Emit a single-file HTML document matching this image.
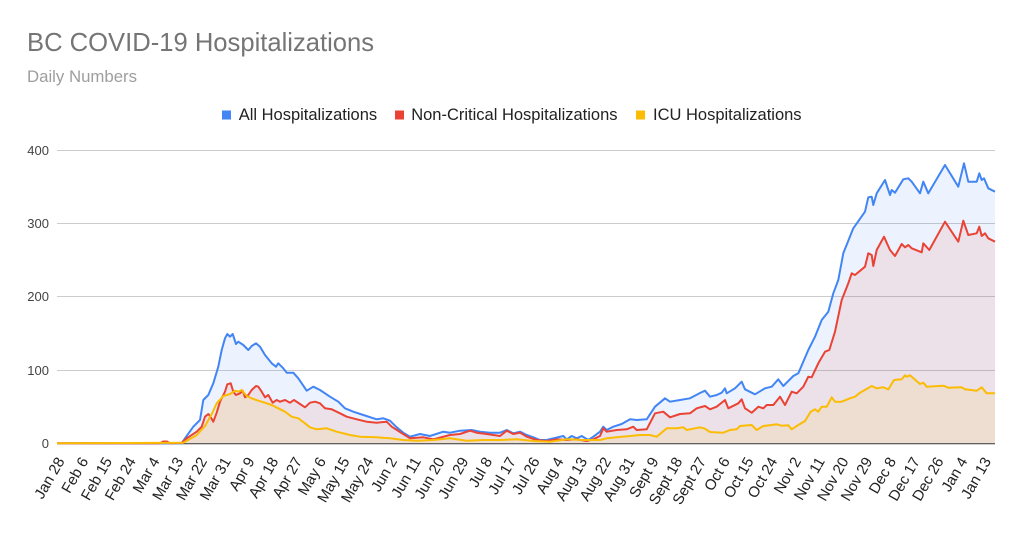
<!DOCTYPE html>
<html><head><meta charset="utf-8"><style>
html,body{margin:0;padding:0;background:#fff;}
svg{display:block;font-family:"Liberation Sans",Arial,sans-serif;}
</style></head><body>
<svg width="1022" height="535" viewBox="0 0 1022 535" xmlns="http://www.w3.org/2000/svg">
<rect width="1022" height="535" fill="#fff"/>
<text x="27" y="51" font-size="25.6" fill="#757575">BC COVID-19 Hospitalizations</text>
<text x="27" y="82" font-size="16.8" fill="#9e9e9e">Daily Numbers</text>
<!-- legend -->
<rect x="222" y="110.5" width="9" height="9" fill="#4285f4"/>
<text x="238.7" y="120" font-size="16.5" fill="#222">All Hospitalizations</text>
<rect x="395" y="110.5" width="9" height="9" fill="#ea4335"/>
<text x="411.2" y="120" font-size="16.5" fill="#222">Non-Critical Hospitalizations</text>
<rect x="636" y="110.5" width="9" height="9" fill="#fbbc04"/>
<text x="653" y="120" font-size="16.5" fill="#222">ICU Hospitalizations</text>
<!-- grid -->
<g stroke="#cccccc" stroke-width="1">
<line x1="57" y1="150.5" x2="995" y2="150.5"/>
<line x1="57" y1="223.5" x2="995" y2="223.5"/>
<line x1="57" y1="296.5" x2="995" y2="296.5"/>
<line x1="57" y1="370.5" x2="995" y2="370.5"/>
</g>
<g font-size="13" fill="#444" text-anchor="end">
<text x="49" y="155">400</text>
<text x="49" y="228">300</text>
<text x="49" y="301">200</text>
<text x="49" y="375">100</text>
<text x="49" y="448">0</text>
</g>
<!-- areas -->
<g fill-opacity="0.1" stroke="none">
<polygon fill="#4285f4" points="57,443.3 181.7,443.3 185,438.3 193.3,426.7 200,420 203.3,400 208.3,395 213.3,383.3 218.3,366.7 221.7,350 225,338.3 227.3,334 230,336.7 232.7,334 236,344 238.3,341.7 243.3,345 248.3,350 251.7,346 256,343.3 260,346.7 265,355 271.7,363.3 276,366.7 278.3,363.3 283.3,368.3 286.7,372.7 293.3,372.7 298.3,378.3 306.7,390.7 313.3,386.7 320,390 330,396.7 338.3,401.7 345,408.3 353.3,411.7 363.3,415 376.7,419.3 383.3,418.3 390,420.7 396.7,427.3 403.3,432.7 410,436.7 420,434 430,436 443.3,431.7 450,432.7 460,430.7 471.7,430 480,431.7 490,432.7 500,432.7 506.7,430 513.3,433.3 520,431.7 526.7,435 533.3,437.3 540,440 546.7,440 553.3,438.3 563.3,436 566.7,439.3 571.7,436 576.7,438.3 581.7,436 588.3,440 593.3,436.7 600,431.7 603.3,426.7 606.7,430 613.3,426.7 621.7,424 630,419.3 636.7,420 646.7,419.3 655,406.7 665,398.3 670,401.7 680,400 690,398.3 700,393 705,390.7 710,396.7 716.7,395 721.7,392.7 725,388.3 726.7,393.3 735,388.3 741.7,381.7 745,389.3 755,394.3 765,388.3 771.7,386.7 778.3,379.3 783.3,386 793.3,376 798.3,373.3 808.3,350 815,336.7 821.7,320 828.3,311.7 833.3,293.3 838.3,280 843.3,253.3 853.3,228.3 865,211.7 868.3,197.3 871.7,196.7 873.3,205 876.7,193.3 885,180 890,195 891.7,190 895,192.7 903.3,179.3 908.3,178.3 911.7,181.7 920,193.3 923.3,181.7 928.3,193.3 945,165 958.3,186.7 964,163.3 968.3,181.7 976.7,181.7 979.3,173.3 981.7,180 984,178.3 988.3,188.3 995,191.7 995,443.3"/>
<polygon fill="#ea4335" points="57,443.3 160,443.3 163,441.5 167,441.5 170,443.3 181.7,442.7 186.7,438.3 196.7,431.7 201.7,426.7 205,416.7 208.3,414 210,416 213.3,421.7 216.7,412.7 220,401.7 225,391.7 227.3,384.3 230.7,383.3 233.3,391.7 236,395 240,393.3 242.7,390.7 245,397.3 248.3,395 251.7,390 256,386 258.3,386.7 261.7,391.7 265,397.3 268.3,395 272.7,402.7 276.7,400 280,401.7 285,400 290,402.7 294,400 300,404 305,407.3 310,402.7 315,401.7 320,403.3 325,408.3 331.7,409.3 340,413.3 346.7,416.7 356.7,419.3 366.7,421.7 376.7,422.7 386.7,421.7 391.7,426.7 400,432 410,438.3 423.3,437.3 433.3,439.3 450,435 460,434 470,430.7 476.7,432.7 486.7,434 500,436 506.7,430.7 513.3,434 520,432.7 526.7,436.7 536.7,440 546.7,441 556.7,439.3 566.7,440 576.7,439.3 586.7,441 593.3,439.3 600,436 603.3,428.3 606.7,431.7 616.7,430 626.7,429.3 633.3,426.7 636.7,430 646.7,429.3 655,413.3 663.3,411.7 670,417.3 680,414 690,413.3 696.7,408.3 705,406 710,409.3 716.7,406.7 725,400 728.3,408.3 738.3,403.3 741.7,399.3 745,408.3 751.7,412.7 758.3,406.7 763.3,408.3 766.7,405 773.3,405 780,396.7 785,405 791.7,391.7 796.7,393.3 803.3,386.7 808.3,376.7 811.7,377.3 818.3,363.3 825,351.7 829.3,350 835,331.7 841.7,300 848.3,283.3 851.7,273.3 855,275 865,266.7 868.3,253.3 871.7,255 873.3,266 876.7,250 884,236.7 890,250 895,256 901.7,244 905,247.3 908.3,245 911.7,248.3 921.7,252.3 923.3,243.3 929.3,250 945,221.7 958.3,241.7 963.3,220.7 968.3,235 976.7,233.3 979.3,226.7 981.7,236 985,233.3 988.3,238.3 995,241.7 995,443.3"/>
<polygon fill="#fbbc04" points="57,443.3 183.3,442.7 196.7,435 205,426 211.7,414 216.7,403.3 223.3,396 230,394 235,390.7 238.3,391.7 241.7,390 246.7,396 251.7,398.3 258.3,400.7 265,402.7 271.7,405 278.3,408.3 285,411.7 291.7,416.7 298.3,418.3 305,423.3 310,427.3 316.7,429.3 326.7,428.3 336.7,431.7 350,435 360,436.7 376.7,437.3 390,438.3 403.3,440 416.7,440.7 433.3,440 450,438.3 466.7,440.7 483.3,440 500,440 516.7,439.3 533.3,441 550,441.7 566.7,439.3 583.3,440 600,440 606.7,438.3 616.7,437.3 630,436 640,435 650,435 656.7,436.7 666.7,428.3 676.7,428.3 683.3,427.3 686.7,430 690,429.3 700,427.3 705,428.7 710,432 723.3,432.7 730,430 736.7,429.3 740,426 751.7,425 756.7,430 763.3,426 771.7,425 776.7,424.3 781.7,425.7 788.3,425.3 791.7,429.3 798.3,425 805,421 810.7,411.7 815,409.3 818.3,411.7 821.7,406.7 826.7,406.7 831.7,397.3 835,401.7 841.7,401.7 850,398.3 855,396.7 860,392.7 871.7,386 876.7,388.3 883.3,387.3 888.3,389.3 894,380 901.7,379.3 905,375.3 906.7,376.7 910,375.3 920,384 923.3,382.7 926.7,386.7 943.3,385.7 948.3,387.7 961.7,387.3 965,389.3 976.7,390.7 981.7,387.3 986.7,393.3 995,393.3 995,443.3"/>
</g>
<line x1="57" y1="443.8" x2="995" y2="443.8" stroke="#333" stroke-width="1"/>
<!-- lines -->
<g fill="none" stroke-width="2" stroke-linejoin="round">
<polyline stroke="#4285f4" points="57,443.3 181.7,443.3 185,438.3 193.3,426.7 200,420 203.3,400 208.3,395 213.3,383.3 218.3,366.7 221.7,350 225,338.3 227.3,334 230,336.7 232.7,334 236,344 238.3,341.7 243.3,345 248.3,350 251.7,346 256,343.3 260,346.7 265,355 271.7,363.3 276,366.7 278.3,363.3 283.3,368.3 286.7,372.7 293.3,372.7 298.3,378.3 306.7,390.7 313.3,386.7 320,390 330,396.7 338.3,401.7 345,408.3 353.3,411.7 363.3,415 376.7,419.3 383.3,418.3 390,420.7 396.7,427.3 403.3,432.7 410,436.7 420,434 430,436 443.3,431.7 450,432.7 460,430.7 471.7,430 480,431.7 490,432.7 500,432.7 506.7,430 513.3,433.3 520,431.7 526.7,435 533.3,437.3 540,440 546.7,440 553.3,438.3 563.3,436 566.7,439.3 571.7,436 576.7,438.3 581.7,436 588.3,440 593.3,436.7 600,431.7 603.3,426.7 606.7,430 613.3,426.7 621.7,424 630,419.3 636.7,420 646.7,419.3 655,406.7 665,398.3 670,401.7 680,400 690,398.3 700,393 705,390.7 710,396.7 716.7,395 721.7,392.7 725,388.3 726.7,393.3 735,388.3 741.7,381.7 745,389.3 755,394.3 765,388.3 771.7,386.7 778.3,379.3 783.3,386 793.3,376 798.3,373.3 808.3,350 815,336.7 821.7,320 828.3,311.7 833.3,293.3 838.3,280 843.3,253.3 853.3,228.3 865,211.7 868.3,197.3 871.7,196.7 873.3,205 876.7,193.3 885,180 890,195 891.7,190 895,192.7 903.3,179.3 908.3,178.3 911.7,181.7 920,193.3 923.3,181.7 928.3,193.3 945,165 958.3,186.7 964,163.3 968.3,181.7 976.7,181.7 979.3,173.3 981.7,180 984,178.3 988.3,188.3 995,191.7"/>
<polyline stroke="#ea4335" points="57,443.3 160,443.3 163,441.5 167,441.5 170,443.3 181.7,442.7 186.7,438.3 196.7,431.7 201.7,426.7 205,416.7 208.3,414 210,416 213.3,421.7 216.7,412.7 220,401.7 225,391.7 227.3,384.3 230.7,383.3 233.3,391.7 236,395 240,393.3 242.7,390.7 245,397.3 248.3,395 251.7,390 256,386 258.3,386.7 261.7,391.7 265,397.3 268.3,395 272.7,402.7 276.7,400 280,401.7 285,400 290,402.7 294,400 300,404 305,407.3 310,402.7 315,401.7 320,403.3 325,408.3 331.7,409.3 340,413.3 346.7,416.7 356.7,419.3 366.7,421.7 376.7,422.7 386.7,421.7 391.7,426.7 400,432 410,438.3 423.3,437.3 433.3,439.3 450,435 460,434 470,430.7 476.7,432.7 486.7,434 500,436 506.7,430.7 513.3,434 520,432.7 526.7,436.7 536.7,440 546.7,441 556.7,439.3 566.7,440 576.7,439.3 586.7,441 593.3,439.3 600,436 603.3,428.3 606.7,431.7 616.7,430 626.7,429.3 633.3,426.7 636.7,430 646.7,429.3 655,413.3 663.3,411.7 670,417.3 680,414 690,413.3 696.7,408.3 705,406 710,409.3 716.7,406.7 725,400 728.3,408.3 738.3,403.3 741.7,399.3 745,408.3 751.7,412.7 758.3,406.7 763.3,408.3 766.7,405 773.3,405 780,396.7 785,405 791.7,391.7 796.7,393.3 803.3,386.7 808.3,376.7 811.7,377.3 818.3,363.3 825,351.7 829.3,350 835,331.7 841.7,300 848.3,283.3 851.7,273.3 855,275 865,266.7 868.3,253.3 871.7,255 873.3,266 876.7,250 884,236.7 890,250 895,256 901.7,244 905,247.3 908.3,245 911.7,248.3 921.7,252.3 923.3,243.3 929.3,250 945,221.7 958.3,241.7 963.3,220.7 968.3,235 976.7,233.3 979.3,226.7 981.7,236 985,233.3 988.3,238.3 995,241.7"/>
<polyline stroke="#fbbc04" points="57,443.3 183.3,442.7 196.7,435 205,426 211.7,414 216.7,403.3 223.3,396 230,394 235,390.7 238.3,391.7 241.7,390 246.7,396 251.7,398.3 258.3,400.7 265,402.7 271.7,405 278.3,408.3 285,411.7 291.7,416.7 298.3,418.3 305,423.3 310,427.3 316.7,429.3 326.7,428.3 336.7,431.7 350,435 360,436.7 376.7,437.3 390,438.3 403.3,440 416.7,440.7 433.3,440 450,438.3 466.7,440.7 483.3,440 500,440 516.7,439.3 533.3,441 550,441.7 566.7,439.3 583.3,440 600,440 606.7,438.3 616.7,437.3 630,436 640,435 650,435 656.7,436.7 666.7,428.3 676.7,428.3 683.3,427.3 686.7,430 690,429.3 700,427.3 705,428.7 710,432 723.3,432.7 730,430 736.7,429.3 740,426 751.7,425 756.7,430 763.3,426 771.7,425 776.7,424.3 781.7,425.7 788.3,425.3 791.7,429.3 798.3,425 805,421 810.7,411.7 815,409.3 818.3,411.7 821.7,406.7 826.7,406.7 831.7,397.3 835,401.7 841.7,401.7 850,398.3 855,396.7 860,392.7 871.7,386 876.7,388.3 883.3,387.3 888.3,389.3 894,380 901.7,379.3 905,375.3 906.7,376.7 910,375.3 920,384 923.3,382.7 926.7,386.7 943.3,385.7 948.3,387.7 961.7,387.3 965,389.3 976.7,390.7 981.7,387.3 986.7,393.3 995,393.3"/>
</g>
<!-- x labels -->
<g font-size="15" fill="#222" text-anchor="end">
<text transform="translate(65,461) rotate(-60)">Jan 28</text>
<text transform="translate(88.8,461) rotate(-60)">Feb 6</text>
<text transform="translate(112.5,461) rotate(-60)">Feb 15</text>
<text transform="translate(136.3,461) rotate(-60)">Feb 24</text>
<text transform="translate(160,461) rotate(-60)">Mar 4</text>
<text transform="translate(183.8,461) rotate(-60)">Mar 13</text>
<text transform="translate(207.6,461) rotate(-60)">Mar 22</text>
<text transform="translate(231.3,461) rotate(-60)">Mar 31</text>
<text transform="translate(255.1,461) rotate(-60)">Apr 9</text>
<text transform="translate(278.8,461) rotate(-60)">Apr 18</text>
<text transform="translate(302.6,461) rotate(-60)">Apr 27</text>
<text transform="translate(326.4,461) rotate(-60)">May 6</text>
<text transform="translate(350.1,461) rotate(-60)">May 15</text>
<text transform="translate(373.9,461) rotate(-60)">May 24</text>
<text transform="translate(397.6,461) rotate(-60)">Jun 2</text>
<text transform="translate(421.4,461) rotate(-60)">Jun 11</text>
<text transform="translate(445.2,461) rotate(-60)">Jun 20</text>
<text transform="translate(468.9,461) rotate(-60)">Jun 29</text>
<text transform="translate(492.7,461) rotate(-60)">Jul 8</text>
<text transform="translate(516.4,461) rotate(-60)">Jul 17</text>
<text transform="translate(540.2,461) rotate(-60)">Jul 26</text>
<text transform="translate(564,461) rotate(-60)">Aug 4</text>
<text transform="translate(587.7,461) rotate(-60)">Aug 13</text>
<text transform="translate(611.5,461) rotate(-60)">Aug 22</text>
<text transform="translate(635.2,461) rotate(-60)">Aug 31</text>
<text transform="translate(659,461) rotate(-60)">Sept 9</text>
<text transform="translate(682.8,461) rotate(-60)">Sept 18</text>
<text transform="translate(706.5,461) rotate(-60)">Sept 27</text>
<text transform="translate(730.3,461) rotate(-60)">Oct 6</text>
<text transform="translate(754,461) rotate(-60)">Oct 15</text>
<text transform="translate(777.8,461) rotate(-60)">Oct 24</text>
<text transform="translate(801.6,461) rotate(-60)">Nov 2</text>
<text transform="translate(825.3,461) rotate(-60)">Nov 11</text>
<text transform="translate(849.1,461) rotate(-60)">Nov 20</text>
<text transform="translate(872.8,461) rotate(-60)">Nov 29</text>
<text transform="translate(896.6,461) rotate(-60)">Dec 8</text>
<text transform="translate(920.4,461) rotate(-60)">Dec 17</text>
<text transform="translate(944.1,461) rotate(-60)">Dec 26</text>
<text transform="translate(967.9,461) rotate(-60)">Jan 4</text>
<text transform="translate(991.6,461) rotate(-60)">Jan 13</text>
</g>
</svg>
</body></html>
